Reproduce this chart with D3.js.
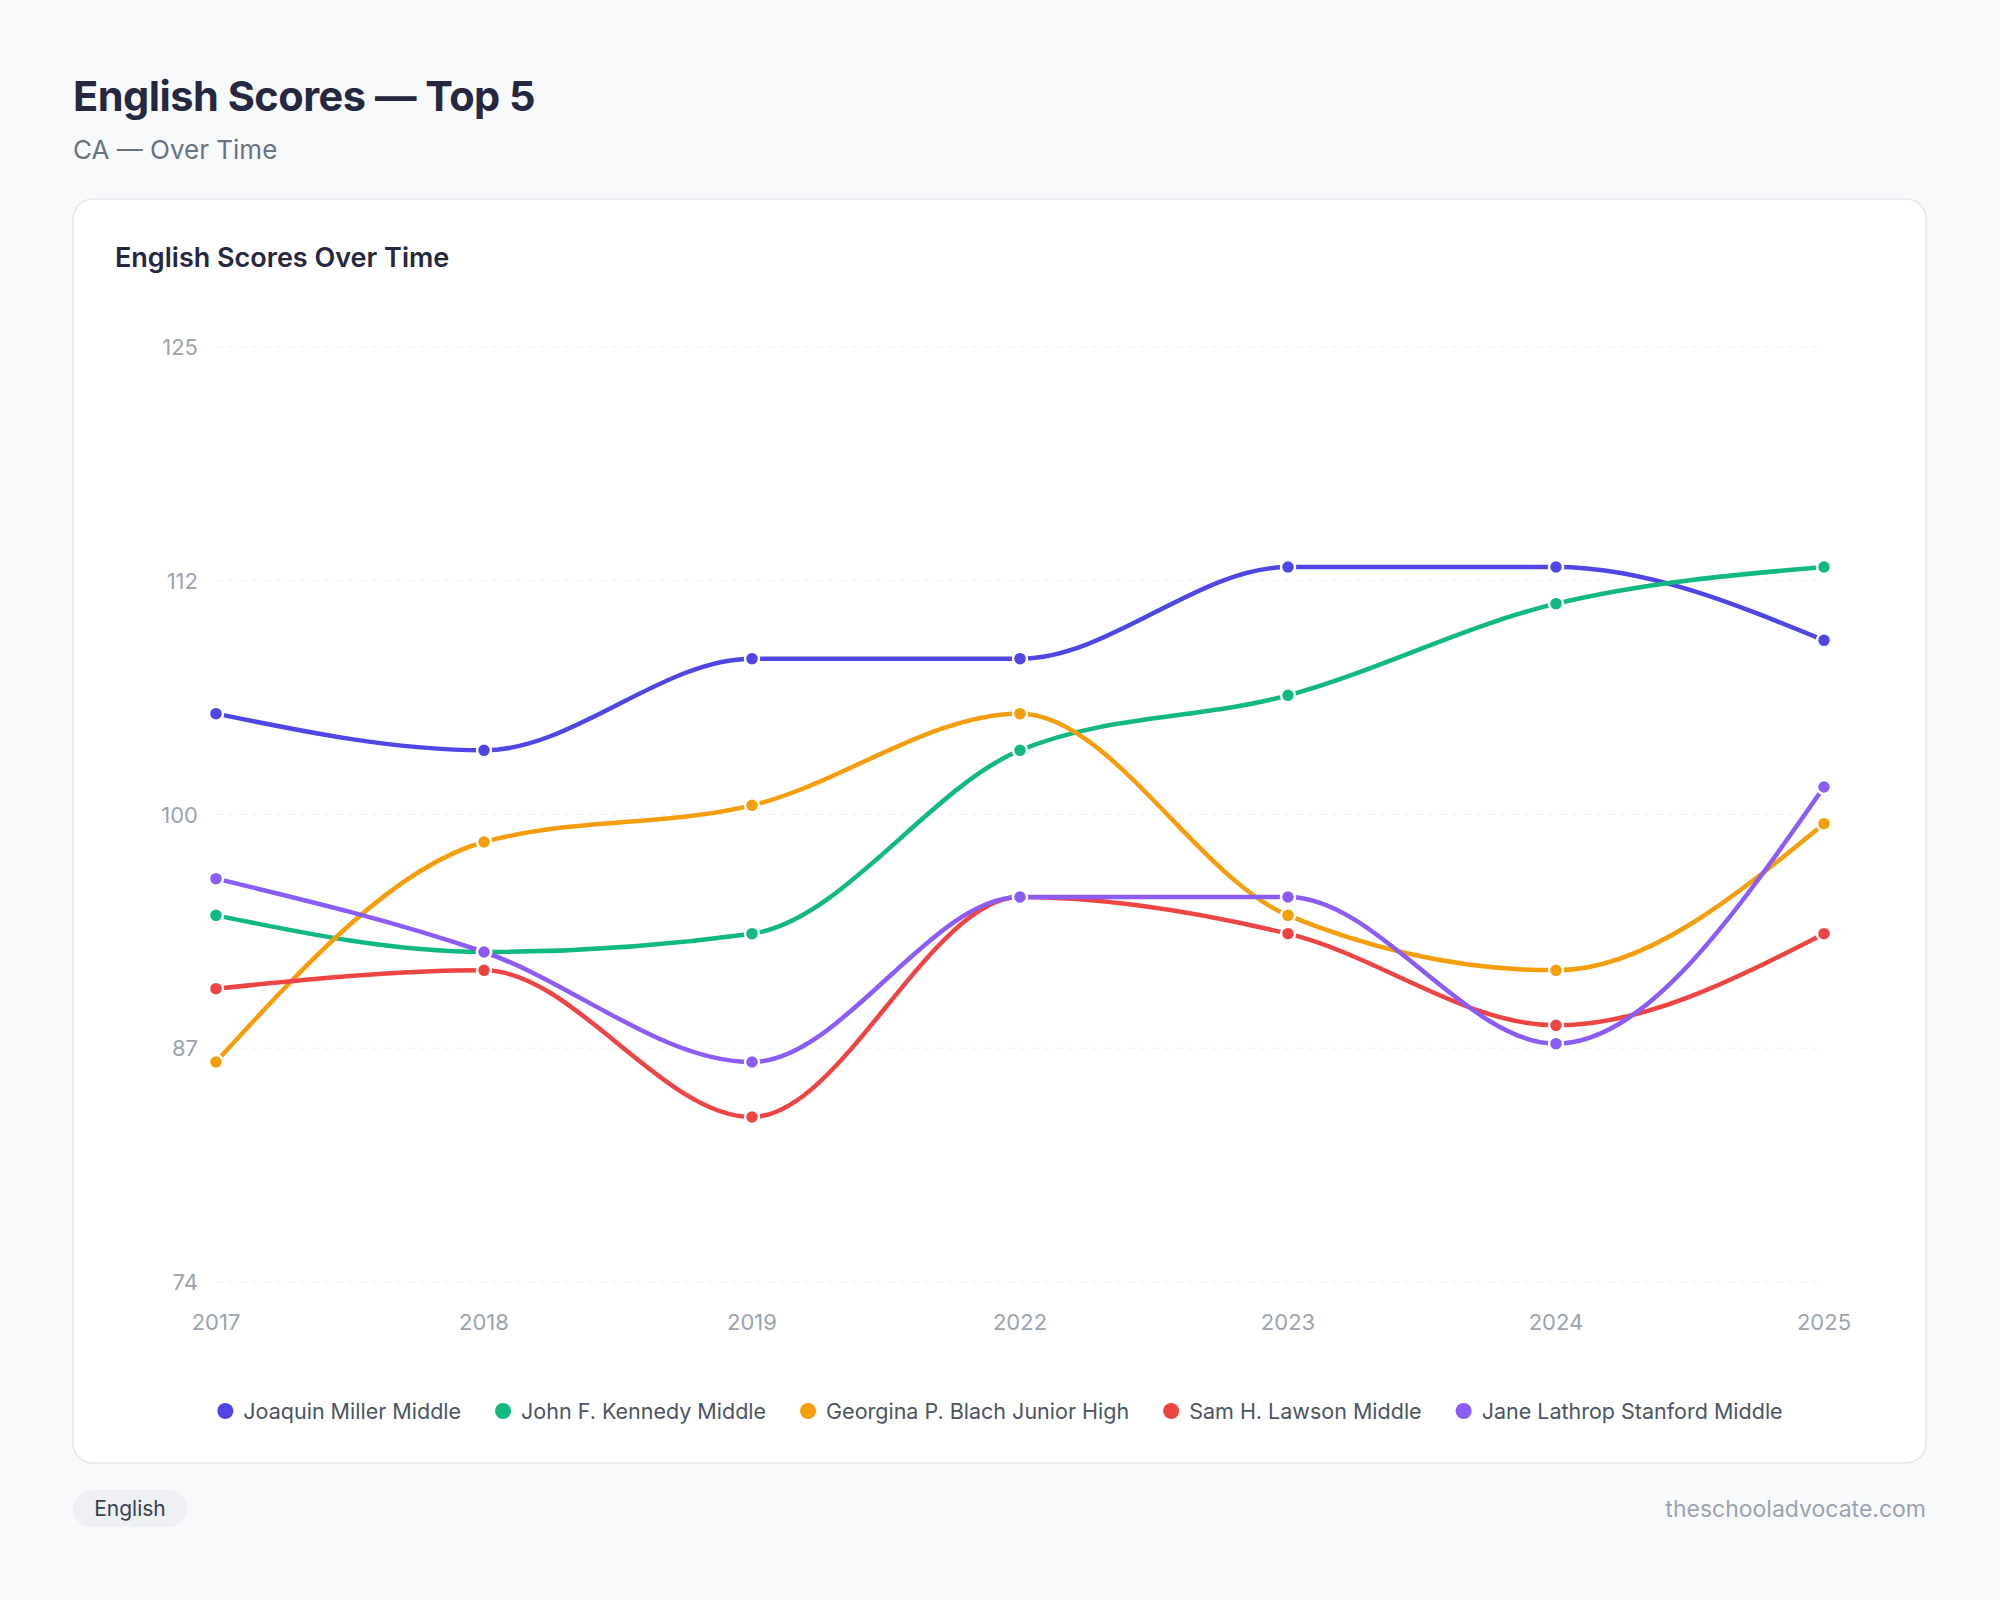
<!DOCTYPE html>
<html><head><meta charset="utf-8">
<script src="https://cdn.jsdelivr.net/npm/d3@7"></script>
<style>body{margin:0;background:#f8f9fb;font-family:Inter,"Noto Sans",sans-serif}</style>
</head><body><svg id="c" width="2000" height="1600"></svg>
<script>
const years=["2017","2018","2019","2022","2023","2024","2025"];
const seriesNames=["Joaquin Miller Middle","John F. Kennedy Middle","Georgina P. Blach Junior High","Sam H. Lawson Middle","Jane Lathrop Stanford Middle"];
const colors=["#4f46e5","#10b981","#f59e0b","#ef4444","#8b5cf6"];
const joaquin=[105,103,108,108,113,113,109];
const kennedy=[94,92,93,103,106,111,113];
const blach=[86,98,100,105,94,91,99];
const lawson=[90,91,83,95,93,88,93];
const stanford=[96,92,86,95,95,87,101];
const values=[joaquin,kennedy,blach,lawson,stanford];
const yMin=74,yMax=125;

const svg=d3.select("#c");
svg.append("rect").attr("width",2000).attr("height",1600).attr("fill","#f8f9fb");
svg.append("text").attr("x",73).attr("y",111).attr("font-size",41.5).attr("font-weight",700).attr("letter-spacing",-0.5).attr("fill","#252840").text("English Scores — Top 5");
svg.append("text").attr("x",73).attr("y",159).attr("font-size",26).attr("fill","#6b7280").text("CA — Over Time");
svg.append("rect").attr("x",73).attr("y",199).attr("width",1853).attr("height",1264).attr("rx",20).attr("fill","#fff").attr("stroke","#e5e7eb").attr("stroke-width",1.5);
svg.append("text").attr("x",115).attr("y",267).attr("font-size",27).attr("font-weight",600).attr("fill","#252840").text("English Scores Over Time");

const x=d3.scalePoint().domain(years).range([216,1824]);
const y=d3.scaleLinear().domain([yMin,yMax]).range([1282,347]);
const ticks=d3.range(5).map(i=>yMin+i*(yMax-yMin)/4);
const g=svg.append("g");
g.selectAll("line.grid").data(ticks).join("line").attr("x1",216).attr("x2",1824).attr("y1",d=>y(d)).attr("y2",d=>y(d)).attr("stroke","#eef0f3").attr("stroke-dasharray","6,6");
g.selectAll("text.yl").data(ticks).join("text").attr("x",198).attr("y",d=>y(d)+8).attr("text-anchor","end").attr("font-size",22).attr("fill","#9ca3af").text(d=>Math.round(d));
g.selectAll("text.xl").data(years).join("text").attr("x",d=>x(d)).attr("y",1330).attr("text-anchor","middle").attr("font-size",22).attr("fill","#9ca3af").text(d=>d);

const line=d3.line().x((d,i)=>x(years[i])).y(d=>y(d)).curve(d3.curveMonotoneX);
values.forEach((vals,si)=>{
  svg.append("path").attr("d",line(vals)).attr("fill","none").attr("stroke",colors[si]).attr("stroke-width",4.5);
});
values.forEach((vals,si)=>{
  svg.selectAll(null).data(vals).join("circle").attr("cx",(d,i)=>x(years[i])).attr("cy",d=>y(d)).attr("r",7).attr("fill",colors[si]).attr("stroke","#fff").attr("stroke-width",2.5);
});

const lg=svg.append("g");
let cx=0;
seriesNames.forEach((n,i)=>{
  const it=lg.append("g");
  it.append("circle").attr("cx",cx+8).attr("cy",0).attr("r",8).attr("fill",colors[i]);
  const t=it.append("text").attr("x",cx+26).attr("y",8).attr("font-size",21.5).attr("fill","#4b5563").text(n);
  cx+=26+t.node().getComputedTextLength()+34;
});
cx-=34;
lg.attr("transform",`translate(${1000-cx/2},1411)`);

svg.append("rect").attr("x",73).attr("y",1490).attr("width",114).attr("height",37).attr("rx",18.5).attr("fill","#eff0f3");
svg.append("text").attr("x",130).attr("y",1516).attr("text-anchor","middle").attr("font-size",21).attr("fill","#374151").text("English");
svg.append("text").attr("x",1926).attr("y",1517).attr("text-anchor","end").attr("font-size",23).attr("fill","#9ca3af").text("theschooladvocate.com");
</script></body></html>
